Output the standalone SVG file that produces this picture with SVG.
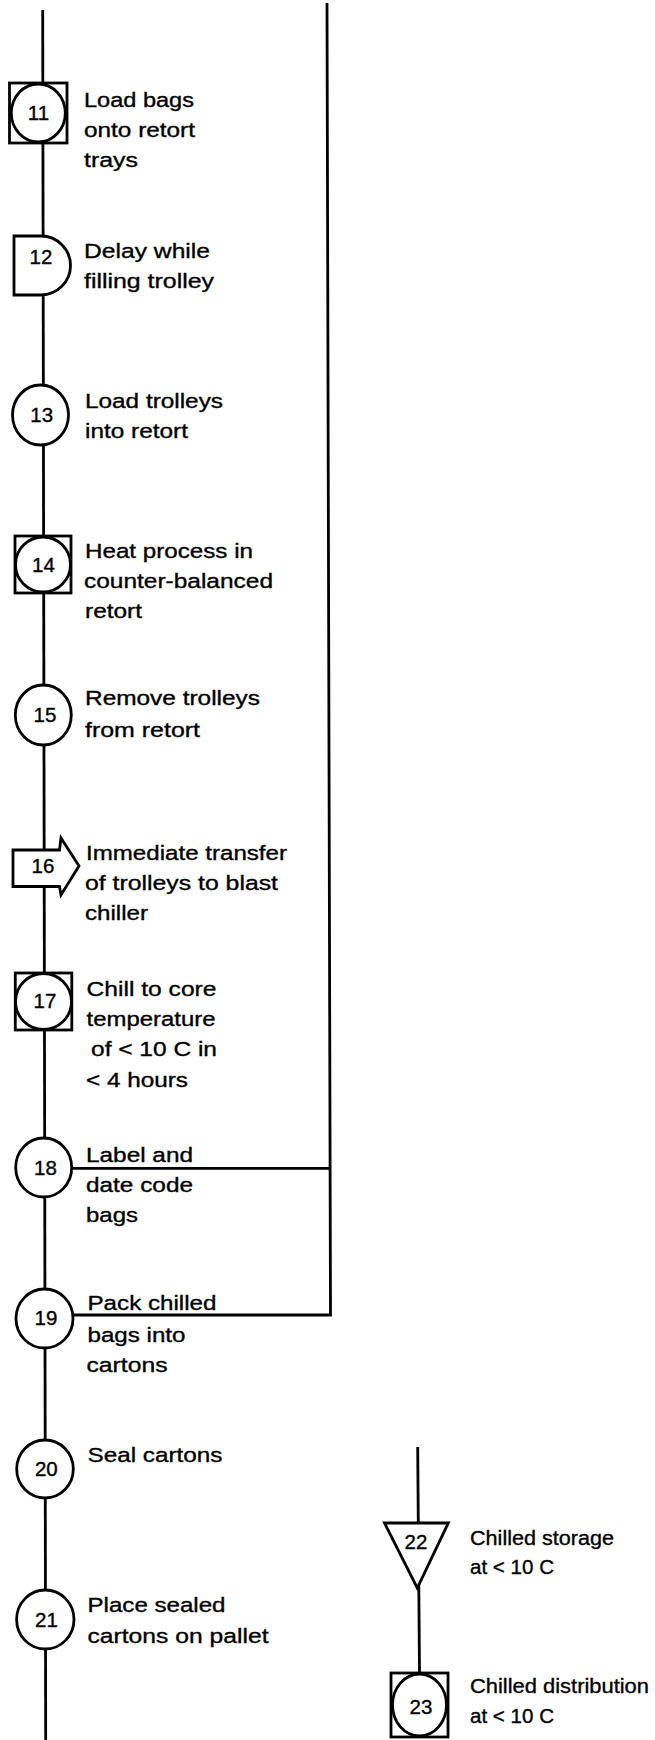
<svg xmlns="http://www.w3.org/2000/svg" width="655" height="1740" viewBox="0 0 655 1740">
<style>
.ln{stroke:#000;stroke-width:2.8;fill:none}
.sh{stroke:#000;stroke-width:2.8;fill:#fff}
.num{font-family:"Liberation Sans",Arial,sans-serif;font-size:20.5px;text-anchor:middle;fill:#000;stroke:#000;stroke-width:0.35}
.lbl{font-family:"Liberation Sans",Arial,sans-serif;font-size:20.5px;fill:#000;stroke:#000;stroke-width:0.35}
</style>
<rect width="655" height="1740" fill="#fff"/>
<g id="connectors">
<line class="ln" x1="42.7" y1="10" x2="45.7" y2="1740"/>
<polyline class="ln" points="327,3 330.5,1315 73,1315"/>
<line class="ln" x1="72" y1="1168.3" x2="330.3" y2="1168.3"/>
<line class="ln" x1="417.7" y1="1447" x2="419.5" y2="1673"/>
</g>
<g id="n11">
<rect class="sh" x="9.5" y="83" width="57.5" height="60"/>
<ellipse class="sh" cx="38.3" cy="113" rx="27" ry="29"/>
<text class="num" x="38.5" y="120">11</text>
<text class="lbl" x="84" y="106.7" textLength="110" lengthAdjust="spacingAndGlyphs">Load bags</text>
<text class="lbl" x="84" y="136.5" textLength="111" lengthAdjust="spacingAndGlyphs">onto retort</text>
<text class="lbl" x="84" y="166.5" textLength="54" lengthAdjust="spacingAndGlyphs">trays</text>
</g>
<g id="n12">
<path class="sh" d="M14,236 H41 A29.5,29.5 0 0 1 41,295 H14 Z"/>
<text class="num" x="41" y="264">12</text>
<text class="lbl" x="84" y="258" textLength="126" lengthAdjust="spacingAndGlyphs">Delay while</text>
<text class="lbl" x="84" y="287.5" textLength="130" lengthAdjust="spacingAndGlyphs">filling trolley</text>
</g>
<g id="n13">
<ellipse class="sh" cx="40.5" cy="415" rx="28" ry="30"/>
<text class="num" x="41.7" y="422">13</text>
<text class="lbl" x="85" y="408" textLength="138" lengthAdjust="spacingAndGlyphs">Load trolleys</text>
<text class="lbl" x="85" y="438" textLength="103" lengthAdjust="spacingAndGlyphs">into retort</text>
</g>
<g id="n14">
<rect class="sh" x="15" y="536" width="56" height="57"/>
<circle class="sh" cx="43" cy="564.5" r="27.5"/>
<text class="num" x="43.5" y="571.5">14</text>
<text class="lbl" x="85" y="558" textLength="168" lengthAdjust="spacingAndGlyphs">Heat process in</text>
<text class="lbl" x="84" y="588" textLength="189" lengthAdjust="spacingAndGlyphs">counter-balanced</text>
<text class="lbl" x="85" y="618" textLength="57" lengthAdjust="spacingAndGlyphs">retort</text>
</g>
<g id="n15">
<ellipse class="sh" cx="43.3" cy="715" rx="28" ry="30"/>
<text class="num" x="45" y="722">15</text>
<text class="lbl" x="85" y="705" textLength="175" lengthAdjust="spacingAndGlyphs">Remove trolleys</text>
<text class="lbl" x="85" y="737" textLength="115" lengthAdjust="spacingAndGlyphs">from retort</text>
</g>
<g id="n16">
<path class="sh" d="M13,850 H59.5 L61,838 L79,866 L61,895 L59.5,886.5 H13 Z"/>
<text class="num" x="43" y="873">16</text>
<text class="lbl" x="86" y="860" textLength="201" lengthAdjust="spacingAndGlyphs">Immediate transfer</text>
<text class="lbl" x="85" y="890" textLength="193" lengthAdjust="spacingAndGlyphs">of trolleys to blast</text>
<text class="lbl" x="85" y="920" textLength="63" lengthAdjust="spacingAndGlyphs">chiller</text>
</g>
<g id="n17">
<rect class="sh" x="15.3" y="973" width="56.5" height="57"/>
<circle class="sh" cx="43.5" cy="1001.5" r="28"/>
<text class="num" x="45" y="1008">17</text>
<text class="lbl" x="86.5" y="996" textLength="130" lengthAdjust="spacingAndGlyphs">Chill to core</text>
<text class="lbl" x="86.5" y="1026" textLength="129" lengthAdjust="spacingAndGlyphs">temperature</text>
<text class="lbl" x="91" y="1056" textLength="126" lengthAdjust="spacingAndGlyphs">of &lt; 10 C in</text>
<text class="lbl" x="86" y="1086.5" textLength="102" lengthAdjust="spacingAndGlyphs">&lt; 4 hours</text>
</g>
<g id="n18">
<ellipse class="sh" cx="43.7" cy="1167.5" rx="28" ry="29.5"/>
<text class="num" x="45.5" y="1174.5">18</text>
<text class="lbl" x="86" y="1161.7" textLength="107" lengthAdjust="spacingAndGlyphs">Label and</text>
<text class="lbl" x="86" y="1191.7" textLength="107" lengthAdjust="spacingAndGlyphs">date code</text>
<text class="lbl" x="86" y="1221.7" textLength="52" lengthAdjust="spacingAndGlyphs">bags</text>
</g>
<g id="n19">
<ellipse class="sh" cx="44.5" cy="1318.5" rx="28.5" ry="29.5"/>
<text class="num" x="46" y="1325">19</text>
<text class="lbl" x="87.5" y="1310" textLength="129" lengthAdjust="spacingAndGlyphs">Pack chilled</text>
<text class="lbl" x="87.5" y="1341.7" textLength="98" lengthAdjust="spacingAndGlyphs">bags into</text>
<text class="lbl" x="86.5" y="1372" textLength="81" lengthAdjust="spacingAndGlyphs">cartons</text>
</g>
<g id="n20">
<ellipse class="sh" cx="45" cy="1469" rx="28.3" ry="29"/>
<text class="num" x="46.3" y="1476">20</text>
<text class="lbl" x="87.5" y="1461.7" textLength="135" lengthAdjust="spacingAndGlyphs">Seal cartons</text>
</g>
<g id="n21">
<ellipse class="sh" cx="45.3" cy="1619.5" rx="28.7" ry="29.5"/>
<text class="num" x="46.5" y="1626.5">21</text>
<text class="lbl" x="87.5" y="1611.7" textLength="138" lengthAdjust="spacingAndGlyphs">Place sealed</text>
<text class="lbl" x="87.5" y="1643.3" textLength="181" lengthAdjust="spacingAndGlyphs">cartons on pallet</text>
</g>
<g id="n22">
<path class="sh" d="M384.5,1523 H448.3 L417.3,1588 Z"/>
<text class="num" x="416" y="1548.5">22</text>
<text class="lbl" x="470" y="1545" textLength="144" lengthAdjust="spacingAndGlyphs">Chilled storage</text>
<text class="lbl" x="470" y="1574" textLength="84" lengthAdjust="spacingAndGlyphs">at &lt; 10 C</text>
</g>
<g id="n23">
<rect class="sh" x="391" y="1673" width="57" height="64"/>
<ellipse class="sh" cx="419.5" cy="1705" rx="27" ry="31"/>
<text class="num" x="421" y="1713.5">23</text>
<text class="lbl" x="470" y="1693.3" textLength="179" lengthAdjust="spacingAndGlyphs">Chilled distribution</text>
<text class="lbl" x="470" y="1722.7" textLength="84" lengthAdjust="spacingAndGlyphs">at &lt; 10 C</text>
</g>
</svg>
